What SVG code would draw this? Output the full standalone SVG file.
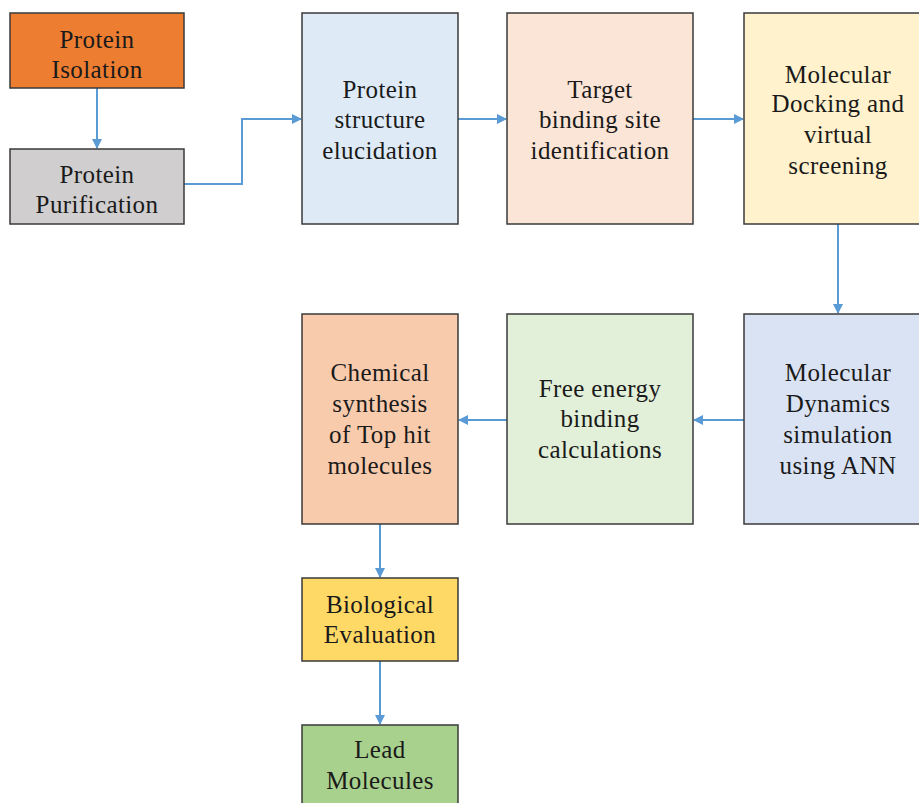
<svg xmlns="http://www.w3.org/2000/svg" width="919" height="803" viewBox="0 0 919 803">
<style>
.b{stroke:#3a3a3a;stroke-width:1.5}
.t{font-family:"Liberation Serif","DejaVu Serif",serif;font-size:25px;letter-spacing:0.4px;fill:#1a1a1a;text-anchor:middle}
.c{fill:none;stroke:#5B9BD5;stroke-width:2}
</style>
<defs>
<marker id="a" markerWidth="10" markerHeight="10" refX="9" refY="5" orient="auto" markerUnits="userSpaceOnUse">
<path d="M0,0 L10,5 L0,10 Z" fill="#5B9BD5"/>
</marker>
</defs>
<rect width="919" height="803" fill="#fff"/>
<g id="connectors">
<path class="c" d="M97,88 V148" marker-end="url(#a)"/>
<path class="c" d="M184,184 H242 V119 H301" marker-end="url(#a)"/>
<path class="c" d="M458,119 H506" marker-end="url(#a)"/>
<path class="c" d="M693,119 H743" marker-end="url(#a)"/>
<path class="c" d="M838,224 V313" marker-end="url(#a)"/>
<path class="c" d="M744,420 H694" marker-end="url(#a)"/>
<path class="c" d="M507,420 H459" marker-end="url(#a)"/>
<path class="c" d="M380,524 V577" marker-end="url(#a)"/>
<path class="c" d="M380,661 V724" marker-end="url(#a)"/>
</g>
<g id="n1"><rect class="b" x="10" y="13" width="174" height="75" fill="#ED7D31"/>
<text class="t" x="97" y="48">Protein</text><text class="t" x="97" y="78">Isolation</text></g>
<g id="n2"><rect class="b" x="10" y="149" width="174" height="75" fill="#D0CECE"/>
<text class="t" x="97" y="183">Protein</text><text class="t" x="97" y="213">Purification</text></g>
<g id="n3"><rect class="b" x="302" y="13" width="156" height="211" fill="#DEEBF7"/>
<text class="t" x="380" y="98">Protein</text><text class="t" x="380" y="128">structure</text><text class="t" x="380" y="159">elucidation</text></g>
<g id="n4"><rect class="b" x="507" y="13" width="186" height="211" fill="#FBE5D6"/>
<text class="t" x="600" y="98">Target</text><text class="t" x="600" y="128">binding site</text><text class="t" x="600" y="159">identification</text></g>
<g id="n5"><rect class="b" x="744" y="13" width="176" height="211" fill="#FFF2CC"/>
<text class="t" x="838" y="83">Molecular</text><text class="t" x="838" y="112">Docking and</text><text class="t" x="838" y="143">virtual</text><text class="t" x="838" y="174">screening</text></g>
<g id="n6"><rect class="b" x="744" y="314" width="176" height="210" fill="#DAE3F3"/>
<text class="t" x="838" y="381">Molecular</text><text class="t" x="838" y="412">Dynamics</text><text class="t" x="838" y="443">simulation</text><text class="t" x="838" y="474">using ANN</text></g>
<g id="n7"><rect class="b" x="507" y="314" width="186" height="210" fill="#E2F0D9"/>
<text class="t" x="600" y="397">Free energy</text><text class="t" x="600" y="427">binding</text><text class="t" x="600" y="458">calculations</text></g>
<g id="n8"><rect class="b" x="302" y="314" width="156" height="210" fill="#F8CBAD"/>
<text class="t" x="380" y="381">Chemical</text><text class="t" x="380" y="412">synthesis</text><text class="t" x="380" y="443">of Top hit</text><text class="t" x="380" y="474">molecules</text></g>
<g id="n9"><rect class="b" x="302" y="578" width="156" height="83" fill="#FFD966"/>
<text class="t" x="380" y="613">Biological</text><text class="t" x="380" y="643">Evaluation</text></g>
<g id="n10"><rect class="b" x="302" y="725" width="156" height="85" fill="#A9D18E"/>
<text class="t" x="380" y="758">Lead</text><text class="t" x="380" y="789">Molecules</text></g>
</svg>
